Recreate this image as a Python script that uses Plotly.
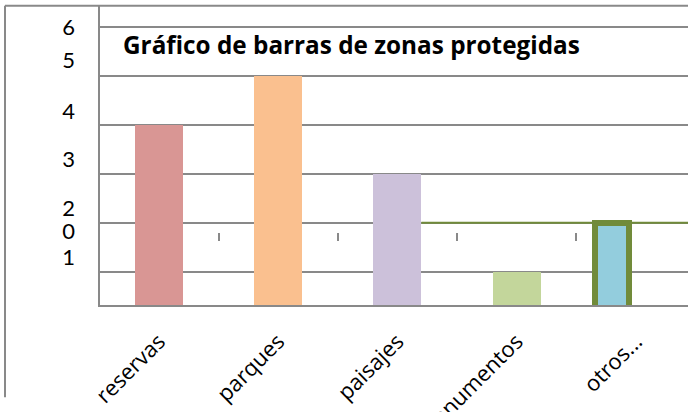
import plotly.graph_objects as go

# ---- data ----
categories = ["reservas", "parques", "paisajes", "monumentos", "otros..."]
values = [4, 5, 3, 1, 2]
bar_colors = ["#D99694", "#FAC08F", "#CCC1DA", "#C3D69B", "#93CDDD"]
ytick_labels = ["6", "5", "4", "3", "2", "0", "1"]
ytick_label_pos = [6.0, 5.31, 4.27, 3.29, 2.29, 1.83, 1.29]
grid_vals = [1, 2, 3, 4, 5, 6]
title_text = "Gráfico de barras de zonas protegidas"

# ---- style ----
GRAY = "#898989"
GREEN = "#718B3A"
FONT = "Lato"
x_range = [-0.495, 4.438]
y_range = [0.316, 6.43]
W, H = 688, 412
ML, MT, MB = 100, 6, 106.5
plot_h = H - MT - MB
plot_w = W - ML

widths = [0.403, 0.403, 0.403, 0.403, 0.285]
offsets = [-0.2015, -0.2015, -0.2015, -0.2015, -0.343]
line_w = [0, 0, 0, 0, 6]
line_c = [bar_colors[0], bar_colors[1], bar_colors[2], bar_colors[3], GREEN]

fig = go.Figure()
fig.add_trace(go.Bar(
    x=categories, y=values, width=widths, offset=offsets,
    marker=dict(color=bar_colors, line=dict(width=line_w, color=line_c)),
    showlegend=False, hoverinfo="skip",
))
# invisible trace for the secondary axes
fig.add_trace(go.Scatter(x=categories, y=values, xaxis="x2", yaxis="y2",
                         mode="markers", marker=dict(opacity=0),
                         showlegend=False, hoverinfo="skip"))

# green horizontal line at the 'otros' level
fig.add_shape(type="line", xref="x", yref="y",
              x0=2 + offsets[2] + widths[2], x1=x_range[1],
              y0=values[4], y1=values[4],
              line=dict(color=GREEN, width=2), layer="above")
# outer frame lines
fx = (5 - ML) / plot_w
fy_top = (H - MB - 5.7) / plot_h
fy_bot = (H - MB - 398) / plot_h
fig.add_shape(type="line", xref="paper", yref="paper",
              x0=fx, x1=1, y0=fy_top, y1=fy_top,
              line=dict(color=GRAY, width=2))
fig.add_shape(type="line", xref="paper", yref="paper",
              x0=fx, x1=fx, y0=fy_top, y1=fy_bot,
              line=dict(color=GRAY, width=2))

fig.update_layout(
    width=W, height=H,
    margin=dict(l=ML, r=0, t=MT, b=MB, pad=0, autoexpand=False),
    paper_bgcolor="white", plot_bgcolor="white",
    bargap=0,
    title=dict(text="<b>" + title_text + "</b>", xref="paper", x=(123 - ML) / plot_w,
               xanchor="left", yref="container", y=1 - 45 / H, yanchor="middle",
               font=dict(family="Open Sans", size=24.3, color="black")),
    xaxis=dict(range=x_range, type="category", showgrid=False, showline=True,
               linecolor=GRAY, linewidth=2, ticks="", tickangle=-45,
               ticklabelstandoff=13, automargin=False,
               tickfont=dict(family="Open Sans", size=22, color="black"), fixedrange=True),
    xaxis2=dict(range=x_range, overlaying="x", anchor="free",
                position=(305.5 - 232) / plot_h, side="bottom",
                tickmode="array", tickvals=[0.5, 1.5, 2.5, 3.5],
                ticks="outside", ticklen=8, tickwidth=1.5, tickcolor=GRAY,
                showticklabels=False, showline=False, showgrid=False,
                zeroline=False, automargin=False),
    yaxis=dict(range=y_range, tickmode="array", tickvals=grid_vals,
               showgrid=True, gridcolor=GRAY, gridwidth=1.5,
               showticklabels=False, showline=True, linecolor=GRAY, linewidth=2,
               zeroline=False, ticks="", automargin=False),
    yaxis2=dict(range=y_range, overlaying="y", anchor="x", side="left",
                tickmode="array", tickvals=ytick_label_pos, ticktext=ytick_labels,
                showgrid=False, showline=False, zeroline=False, ticks="",
                ticklabelstandoff=24, automargin=False,
                tickfont=dict(family=FONT, size=22, color="black")),
)

fig.write_html(
    "out.html",
    config={"displayModeBar": False},
    post_script="document.body.style.margin='0';document.body.style.overflow='hidden';",
)
